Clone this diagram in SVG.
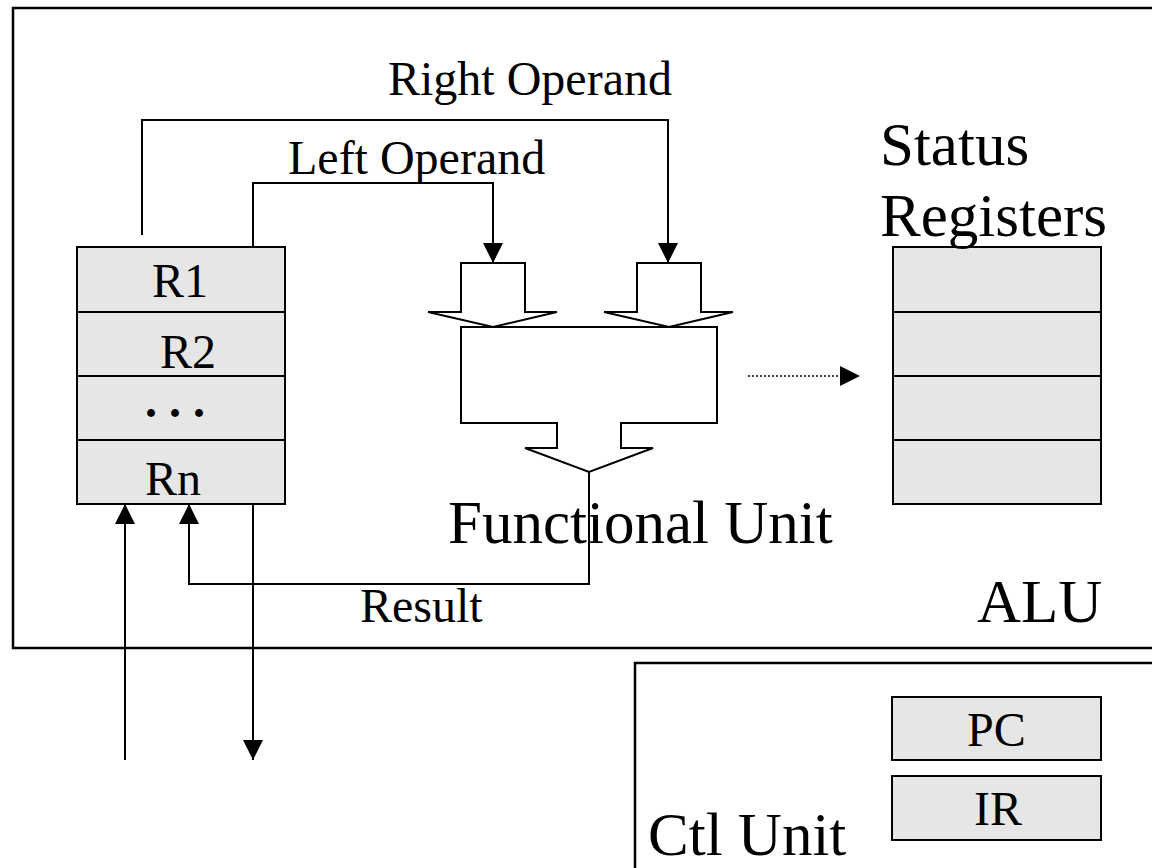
<svg xmlns="http://www.w3.org/2000/svg" width="1152" height="868" viewBox="0 0 1152 868">
<style>
.frame{fill:none;stroke:#000;stroke-width:2.5}
.reg{fill:#e6e6e6;stroke:#000;stroke-width:2}
.shape{fill:#fff;stroke:#000;stroke-width:2}
.wire{fill:none;stroke:#000;stroke-width:2}
.dot{fill:none;stroke:#000;stroke-width:1.5;stroke-dasharray:2 2}
.t{font-family:"Liberation Serif","Times New Roman",serif;fill:#000}
.m{font-size:48px}
.l{font-size:61px}
</style>
<defs>
<marker id="ah" viewBox="0 0 20 20" refX="20" refY="10" markerWidth="20" markerHeight="20" markerUnits="userSpaceOnUse" orient="auto">
<path d="M0,0 L20,10 L0,20 Z" fill="#000"/>
</marker>
</defs>
<rect width="1152" height="868" fill="#fff"/>
<g id="alu">
<rect class="frame" x="13" y="8" width="1160" height="640"/>
<text class="t l" x="977" y="622">ALU</text>
</g>
<g id="ctl-unit">
<rect class="frame" x="635" y="663" width="540" height="230"/>
<text class="t l" x="648" y="855" font-size="57">Ctl Unit</text>
</g>
<g id="register-file">
<rect class="reg" x="77" y="247" width="208" height="65"/>
<rect class="reg" x="77" y="312" width="208" height="64"/>
<rect class="reg" x="77" y="376" width="208" height="64"/>
<rect class="reg" x="77" y="440" width="208" height="64"/>
<text class="t m" x="152" y="297">R1</text>
<text class="t m" x="160" y="368">R2</text>
<text class="t m" x="145" y="417" font-weight="bold">. . .</text>
<text class="t m" x="145" y="495">Rn</text>
</g>
<g id="functional-unit">
<polygon class="shape" points="461,263 525,263 525,312 557,312 493,327 428,312 461,312"/>
<polygon class="shape" points="637,263 701,263 701,312 733,312 669,327 604,312 637,312"/>
<path class="shape" d="M461,327 H717 V423 H621 V448 H653 L589,472 L525,448 H557 V423 H461 Z"/>
</g>
<g id="status-registers">
<rect class="reg" x="893" y="247" width="208" height="65"/>
<rect class="reg" x="893" y="312" width="208" height="64"/>
<rect class="reg" x="893" y="376" width="208" height="64"/>
<rect class="reg" x="893" y="440" width="208" height="64"/>
<text class="t l" x="880" y="165" font-size="60">Status</text>
<text class="t l" x="880" y="236" font-size="65">Registers</text>
</g>
<g id="pc">
<rect class="reg" x="892" y="697" width="209" height="63"/>
<text class="t m" x="967" y="746" font-size="47">PC</text>
</g>
<g id="ir">
<rect class="reg" x="892" y="776" width="209" height="64"/>
<text class="t m" x="974" y="825" font-size="47">IR</text>
</g>
<g id="connectors">
<polyline class="wire" points="142,235 142,120 668,120 668,263" marker-end="url(#ah)"/>
<polyline class="wire" points="253,247 253,183 493,183 493,263" marker-end="url(#ah)"/>
<polyline class="wire" points="589,472 589,584 189,584 189,504" marker-end="url(#ah)"/>
<line class="wire" x1="125" y1="760" x2="125" y2="504" marker-end="url(#ah)"/>
<line class="wire" x1="253" y1="504" x2="253" y2="760" marker-end="url(#ah)"/>
<line class="dot" x1="748" y1="376" x2="860" y2="376" marker-end="url(#ah)"/>
<text class="t m" x="388" y="95" font-size="46">Right Operand</text>
<text class="t m" x="288" y="174">Left Operand</text>
<text class="t m" x="360" y="622" font-size="42">Result</text>
</g>
<text class="t l" x="448" y="543" font-size="64">Functional Unit</text>
</svg>
